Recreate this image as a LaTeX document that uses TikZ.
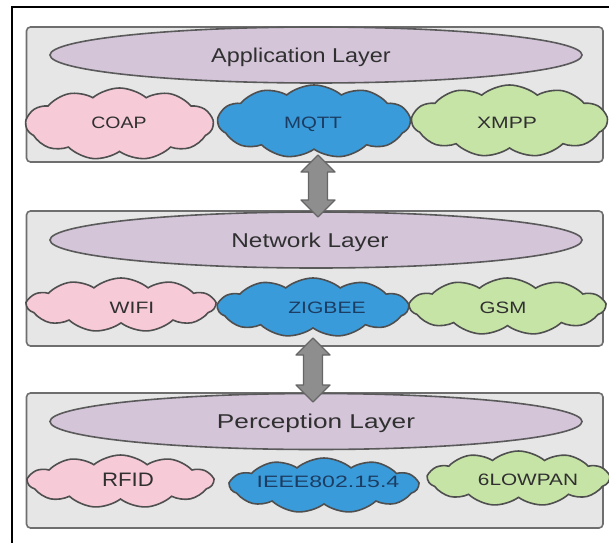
\documentclass[tikz,border=0pt]{standalone}
\usepackage{fontspec}
\setmainfont{Liberation Sans}
\usepackage{graphicx}
\usetikzlibrary{shapes.symbols,shapes.geometric,calc}

\definecolor{boxfill}{HTML}{E6E6E6}
\definecolor{boxline}{HTML}{6E6E6E}
\definecolor{ellfill}{HTML}{D4C5D9}
\definecolor{ellline}{HTML}{5A5A5A}
\definecolor{cloudline}{HTML}{4F4F4F}
\definecolor{pinkfill}{HTML}{F7CAD8}
\definecolor{bluefill}{HTML}{3A9BDA}
\definecolor{greenfill}{HTML}{C7E4A7}
\definecolor{txtdark}{HTML}{303030}
\definecolor{txtnavy}{HTML}{1B3D63}
\definecolor{arrowfill}{HTML}{8E8E8E}
\definecolor{arrowline}{HTML}{666666}

% horizontally widened text
\newcommand{\widetxt}[2]{\scalebox{#1}[1]{#2}}

\begin{document}
\begin{tikzpicture}[x=1pt,y=-1pt,
  layerbox/.style={draw=boxline, fill=boxfill, line width=1.6pt,
    rounded corners=4pt, minimum width=576.5pt, minimum height=135pt, inner sep=0pt},
  layerell/.style={ellipse, draw=ellline, fill=ellfill, line width=1.6pt,
    minimum width=532pt, minimum height=56pt, inner sep=0pt},
  layertext/.style={anchor=base, inner sep=0pt, text=txtdark,
    font=\fontsize{20}{24}\selectfont},
  puff/.style={cloud, cloud puffs=11, cloud puff arc=80, cloud ignores aspect,
    draw=cloudline, line width=1.6pt, inner sep=0pt},
  pinkpuff/.style={puff, fill=pinkfill},
  bluepuff/.style={puff, fill=bluefill},
  greenpuff/.style={puff, fill=greenfill},
  puffsize/.style 2 args={minimum width=#1pt, minimum height=#2pt},
  cloudtext/.style={anchor=base, inner sep=0pt, text=txtdark,
    font=\fontsize{16.5}{19}\selectfont},
  bluetext/.style={cloudtext, text=txtnavy},
  fatarrow/.style={draw=arrowline, fill=arrowfill, line width=1.3pt, line join=round}
]
\useasboundingbox (0,0) rectangle (609,543);

% frame
\draw[line width=2pt] (609,7) -- (12,7) -- (12,543);

% ---------- Application layer ----------
\node[layerbox] (app) at (314.75,94.5) {};
\node[layerell] (appell) at (316,55) {};
\node[layertext] (applbl) at (301,62) {\widetxt{1.17}{Application Layer}};
\node[pinkpuff, puffsize={187}{72}] (coap) at (119.5,124) {};
\node[bluepuff, puffsize={192}{73}] (mqtt) at (314,121.5) {};
\node[greenpuff, puffsize={195}{72}] (xmpp) at (509.5,121) {};
\node[cloudtext] (coaplbl) at (119,128) {\widetxt{1.18}{COAP}};
\node[bluetext] (mqttlbl) at (313,128) {\widetxt{1.24}{MQTT}};
\node[cloudtext] (xmpplbl) at (507,128) {\widetxt{1.28}{XMPP}};

% ---------- Network layer ----------
\node[layerbox] (net) at (314.75,278.5) {};
\node[layerell] (netell) at (316,240) {};
\node[layertext] (netlbl) at (310,247) {\widetxt{1.22}{Network Layer}};
\node[pinkpuff, puffsize={188}{54}] (wifi) at (121,305) {};
\node[bluepuff, puffsize={190}{59}] (zigbee) at (313,307.5) {};
\node[greenpuff, puffsize={195}{57}] (gsm) at (507.5,306.5) {};
\node[cloudtext] (wifilbl) at (132,313) {\widetxt{1.28}{WIFI}};
\node[bluetext] (zigbeelbl) at (327,313) {\widetxt{1.28}{ZIGBEE}};
\node[cloudtext] (gsmlbl) at (503,313) {\widetxt{1.24}{GSM}};

% ---------- Perception layer ----------
\node[layerbox] (per) at (314.75,460.5) {};
\node[layerell] (perell) at (316,421.5) {};
\node[layertext] (perlbl) at (316,428.5) {\widetxt{1.31}{Perception Layer}};
\node[pinkpuff, puffsize={185}{53}] (rfid) at (120.5,481.5) {};
\node[bluepuff, puffsize={188}{55}] (ieee) at (324,485.5) {};
\node[greenpuff, puffsize={181}{55}] (lowpan) at (518.5,478.5) {};
\node[cloudtext, font=\fontsize{19.5}{22}\selectfont] (rfidlbl) at (128,486) {\widetxt{1.14}{RFID}};
\node[bluetext] (ieeelbl) at (328,487) {\widetxt{1.4}{IEEE802.15.4}};
\node[cloudtext, font=\fontsize{16.5}{19}\selectfont] (lowpanlbl) at (528,485) {\widetxt{1.26}{6LOWPAN}};

% ---------- two-way arrows between the layers ----------
\coordinate (a1t) at (318,155);
\coordinate (a1b) at (318,217);
\coordinate (a2t) at (313,338);
\coordinate (a2b) at (313,402);
\foreach \t/\b in {a1t/a1b, a2t/a2b}{
  \draw[fatarrow] (\t)
    -- ($(\t)+(17,17)$) -- ($(\t)+(9.5,17)$)
    -- ($(\b)+(9.5,-17)$) -- ($(\b)+(17,-17)$)
    -- (\b)
    -- ($(\b)+(-17,-17)$) -- ($(\b)+(-9.5,-17)$)
    -- ($(\t)+(-9.5,17)$) -- ($(\t)+(-17,17)$) -- cycle;
}
\end{tikzpicture}
\end{document}
